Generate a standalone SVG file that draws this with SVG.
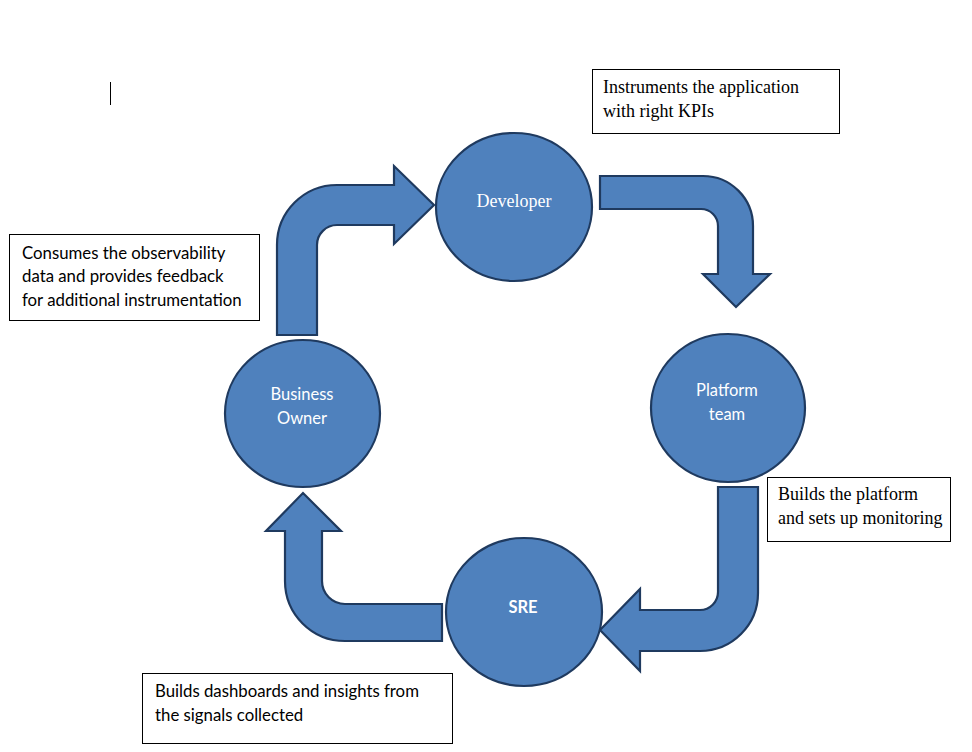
<svg xmlns="http://www.w3.org/2000/svg" width="972" height="752" viewBox="0 0 972 752">
<style>
.node{fill:#4F81BD;stroke:#1F3A5F;stroke-width:2.2}
.arrow{fill:#4F81BD;stroke:#1F3A5F;stroke-width:2.2;stroke-linejoin:miter}
.box{fill:#FFFFFF;stroke:#000000;stroke-width:1}
.serif{font-family:"Liberation Serif","DejaVu Serif",serif;font-size:18px;fill:#000}
.sans{font-family:"Lato","Liberation Sans",sans-serif;font-size:16.8px;fill:#000}
.wserif{font-family:"Liberation Serif","DejaVu Serif",serif;font-size:18px;fill:#FFF;text-anchor:middle}
.wsans{font-family:"Lato","Liberation Sans",sans-serif;font-size:16.5px;fill:#FFF;text-anchor:middle}
</style>
<rect width="972" height="752" fill="#FFFFFF"/>
<line x1="110.5" y1="82" x2="110.5" y2="105" stroke="#000" stroke-width="1"/>
<g id="connectors">
<path class="arrow" d="M277,335 L277,245 A60,60 0 0 1 337,185 L394,185 L394,166 L434,205 L394,244 L394,225 L337,225 A20,20 0 0 0 317,245 L317,335 Z"/>
<path class="arrow" d="M600,176 L703,176 A50,50 0 0 1 753,226 L753,274 L770,274 L736,307 L703,274 L718,274 L718,226 A17,17 0 0 0 701,209 L600,209 Z"/>
<path class="arrow" d="M718,487 L758,487 L758,593 A58,58 0 0 1 700,651 L640,651 L640,671 L600,630 L640,589 L640,610 L700,610 A18,18 0 0 0 718,592 Z"/>
<path class="arrow" d="M442,604 L345,604 A23,23 0 0 1 322,581 L322,531 L341,531 L303,493 L266,531 L285,531 L285,581 A60,60 0 0 0 345,641 L442,641 Z"/>
</g>
<g id="developer">
<ellipse class="node" cx="514" cy="207" rx="78" ry="74"/>
<text class="wserif" x="514" y="207">Developer</text>
</g>
<g id="platform">
<ellipse class="node" cx="728" cy="408" rx="77" ry="74"/>
<text class="wsans" x="727" y="396">Platform</text>
<text class="wsans" x="727" y="420">team</text>
</g>
<g id="sre">
<ellipse class="node" cx="524" cy="612" rx="78" ry="74"/>
<text class="wsans" x="523" y="613" font-weight="bold" font-size="15">SRE</text>
</g>
<g id="business-owner">
<ellipse class="node" cx="302.5" cy="413.5" rx="77.5" ry="73.5"/>
<text class="wsans" x="302" y="400">Business</text>
<text class="wsans" x="302" y="424">Owner</text>
</g>
<g id="note-developer">
<rect class="box" x="592.5" y="69.5" width="247" height="64"/>
<text class="serif" x="603" y="93">Instruments the application</text>
<text class="serif" x="603" y="117">with right KPIs</text>
</g>
<g id="note-platform">
<rect class="box" x="767.5" y="477.5" width="183" height="64"/>
<text class="serif" x="778" y="500">Builds the platform</text>
<text class="serif" x="778" y="524">and sets up monitoring</text>
</g>
<g id="note-business">
<rect class="box" x="9.5" y="234.5" width="250" height="86"/>
<text class="sans" x="22" y="259">Consumes the observability</text>
<text class="sans" x="22" y="282">data and provides feedback</text>
<text class="sans" x="22" y="306">for additional instrumentation</text>
</g>
<g id="note-sre">
<rect class="box" x="142.5" y="673.5" width="310" height="70"/>
<text class="sans" x="155" y="697">Builds dashboards and insights from</text>
<text class="sans" x="155" y="721">the signals collected</text>
</g>
</svg>
